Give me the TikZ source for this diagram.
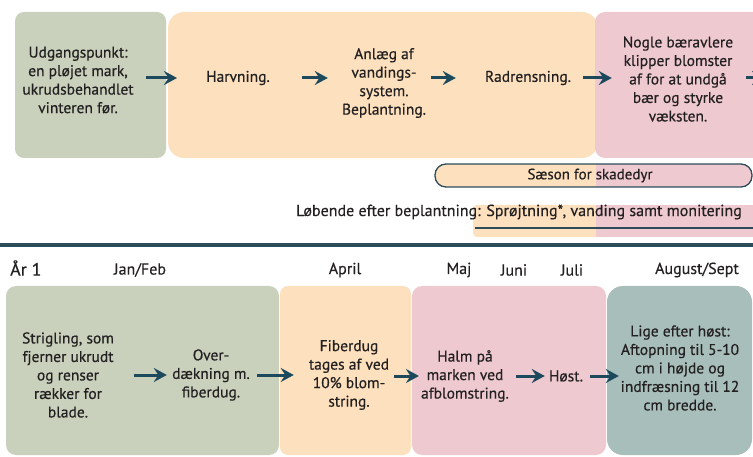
\documentclass[tikz,border=0pt]{standalone}
\usepackage{fontspec}
\setmainfont{PT Sans}[FakeBold=0.45]
\usetikzlibrary{arrows.meta,positioning,calc}
\definecolor{sage}{RGB}{201,208,187}
\definecolor{peach}{RGB}{253,224,189}
\definecolor{rose}{RGB}{238,201,207}
\definecolor{harvestgreen}{RGB}{168,190,186}
\definecolor{ink}{RGB}{28,74,92}
\definecolor{rulecol}{RGB}{44,76,90}
\definecolor{txtgray}{RGB}{35,32,33}

\begin{document}
\begin{tikzpicture}[x=1pt, y=-1pt,
  lbl/.style={align=center, text=txtgray, font=\fontsize{15.5}{18.5}\selectfont,
              inner xsep=0pt, inner ysep=1pt, minimum width=#1},
  lbl/.default=10pt,
  small/.style={text=txtgray, font=\fontsize{15}{17}\selectfont, inner sep=1pt},
  month/.style={text=txtgray, font=\fontsize{16}{18}\selectfont, inner sep=1pt},
  arr/.style={-{Stealth[length=13pt,width=14pt,inset=4.5pt]}, line width=3pt, draw=ink}]
  \useasboundingbox (0,0) rectangle (753,457);

  % year before planting
  \fill[sage, rounded corners=9pt] (15,12) rectangle (166,158);
  \fill[peach, rounded corners=16pt] (168,12) rectangle (598,158);
  \fill[rose, rounded corners=10pt] (595,12) rectangle (790,158);

  \node[lbl=116pt] (start) at (78,80) {Udgangspunkt:\\en pløjet mark,\\ukrudsbehandlet\\vinteren før.};
  \node[lbl=62pt] (harrow) at (238,78) {Harvning.};
  \node[lbl=76pt] (plant) at (384,83) {Anlæg af\\vandings-\\system.\\Beplantning.};
  \node[lbl=84pt] (rows) at (528,78) {Radrensning.};
  \node[lbl=116pt] (clip) at (678,79) {Nogle bæravlere\\klipper blomster\\af for at undgå\\bær og styrke\\væksten.};
  \coordinate (edge) at (765,78);

  \draw[arr, shorten <=10pt, shorten >=29pt] (start.east |- harrow.west) -- (harrow.west);
  \draw[arr, shorten <=32pt, shorten >=14pt] (harrow.east) -- (harrow.east -| plant.west);
  \draw[arr, shorten <=5pt, shorten >=29pt] (rows.west -| plant.east) -- (rows.west);
  \draw[arr, shorten <=12pt, shorten >=8pt] (rows.east) -- (rows.east -| clip.west);
  \draw[arr, shorten <=10pt] (rows.east -| clip.east) -- (edge);

  % season bars
  \begin{scope}
    \clip[rounded corners=11pt] (435,164) rectangle (752,187);
    \fill[peach] (435,164) rectangle (596,187);
    \fill[rose] (596,164) rectangle (752,187);
  \end{scope}
  \draw[rulecol, line width=1.3pt, rounded corners=11pt] (435,164) rectangle (752,187);
  \node[small] (pests) at (590,175.5) {Sæson for skadedyr};

  \fill[peach, rounded corners=4pt] (473,205) rectangle (600,237);
  \fill[rose] (596,205) rectangle (753,237);
  \draw[rulecol, line width=2pt] (475,228) -- (753,228);
  \node[small, font=\fontsize{16}{18}\selectfont, anchor=east] (ongoing) at (743,212) {Løbende efter beplantning: Sprøjtning*, vanding samt monitering};

  \draw[rulecol, line width=4pt] (0,245) -- (753,245);

  % year 1
  \node[text=txtgray, font=\fontsize{18}{20}\selectfont, anchor=west, inner sep=0pt] (year) at (10,268) {År 1};
  \node[month] (janfeb) at (140,270) {Jan/Feb};
  \node[month] (april) at (345,270) {April};
  \node[month] (may) at (459,270) {Maj};
  \node[month] (june) at (514,270) {Juni};
  \node[month] (july) at (572,270) {Juli};
  \node[month] (augsep) at (697,270) {August/Sept};

  \fill[sage, rounded corners=10pt] (6,286) rectangle (279,455);
  \fill[peach, rounded corners=8pt] (280,286) rectangle (411,455);
  \fill[rose, rounded corners=10pt] (412,286) rectangle (606,455);
  \fill[harvestgreen, rounded corners=16pt] (607,286) rectangle (752,455);

  \node[lbl=100pt] (weed) at (68,375) {Strigling, som\\fjerner ukrudt\\og renser\\rækker for\\blade.};
  \node[lbl=80pt] (cover) at (211,375) {Over-\\dækning m.\\fiberdug.};
  \node[lbl=80pt] (fleece) at (349,375) {Fiberdug\\tages af ved\\10\% blom-\\string.};
  \node[lbl=84pt] (straw) at (465,376) {Halm på\\marken ved\\afblomstring.};
  \node[lbl=32pt] (harvest) at (566,376) {Høst.};
  \node[lbl=128pt] (trim) at (680,368) {Lige efter høst:\\Aftopning til 5-10\\cm i højde og\\indfræsning til 12\\cm bredde.};

  \draw[arr, shorten <=16pt, shorten >=4pt] (weed.east |- cover.west) -- (cover.west);
  \draw[arr, shorten <=6pt, shorten >=15pt] (cover.east) -- (cover.east -| fleece.west);
  \draw[arr, shorten <=5pt, shorten >=2pt] (straw.west -| fleece.east) -- (straw.west);
  \draw[arr, shorten <=7pt, shorten >=4pt] (straw.east) -- (harvest.west);
  \draw[arr, shorten <=7pt, shorten >=-3pt] (harvest.east) -- (harvest.east -| trim.west);
\end{tikzpicture}
\end{document}
